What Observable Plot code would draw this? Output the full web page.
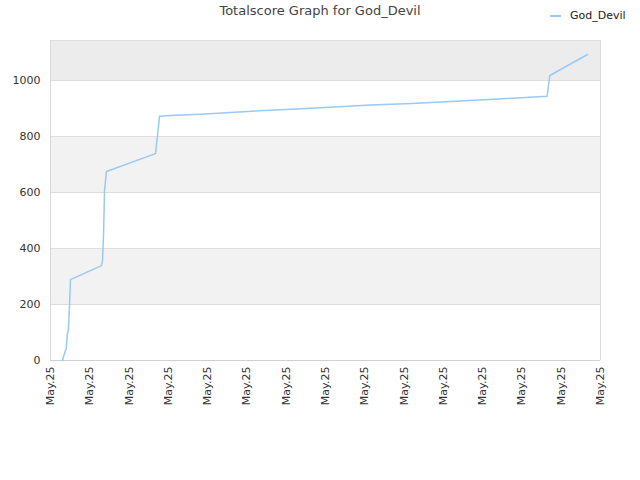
<!DOCTYPE html>
<html>
<head>
<meta charset="utf-8">
<script src="https://cdn.jsdelivr.net/npm/d3@7"></script>
<script src="https://cdn.jsdelivr.net/npm/@observablehq/plot@0.6"></script>
<style>
  html, body { margin: 0; padding: 0; background: #fff; }
  #wrap { position: relative; width: 640px; height: 480px; font-family: "DejaVu Sans", sans-serif; }
  #title { position: absolute; left: 0; top: 3px; width: 640px; text-align: center; font-size: 13px; color: #444; }
  #legend { position: absolute; left: 550px; top: 9px; font-size: 11px; color: #222; display: flex; align-items: center; }
  #legend .sw { width: 11px; height: 2px; background: #99c9f5; margin-right: 9px; }
  #chart { position: absolute; left: 0; top: 0; }
</style>
</head>
<body>
<div id="wrap">
  <div id="chart"></div>
  <div id="title">Totalscore Graph for God_Devil</div>
  <div id="legend"><div class="sw"></div><span>God_Devil</span></div>
</div>
<script>
// Data
const seriesName = "God_Devil";
const xValues = [0.305, 0.34, 0.40, 0.425, 0.458, 0.476, 0.509, 1.298, 1.324, 1.35, 1.375, 1.425, 2.673, 2.74, 2.775, 3.05, 3.82, 4.8, 5.85, 7.0, 8.15, 9.2, 10.18, 11.4, 12.64, 12.71, 13.67];
const scores  = [0, 18, 43, 89, 114, 171, 289, 339, 357, 450, 607, 675, 739, 825, 872, 875, 880, 888, 896, 904, 913, 918, 925, 934, 944, 1018, 1093];
const tickPositions = [0, 1, 2, 3, 4, 5, 6, 7, 8, 9, 10, 11, 12, 13, 14];
const tickLabels = ["May.25","May.25","May.25","May.25","May.25","May.25","May.25","May.25","May.25","May.25","May.25","May.25","May.25","May.25","May.25"];
const yTicks = [0, 200, 400, 600, 800, 1000];
const bandStarts = [200, 600, 1000];
const bandEnds = [400, 800, 1143];
const yMax = 1143;

const points = xValues.map((x, i) => ({x, y: scores[i]}));
const bands = bandStarts.map((s, i) => ({y1: s, y2: bandEnds[i], top: i === bandStarts.length - 1}));

const chart = Plot.plot({
  width: 640,
  height: 480,
  marginLeft: 50,
  marginRight: 40,
  marginTop: 40,
  marginBottom: 120,
  style: { fontFamily: "DejaVu Sans, sans-serif", fontSize: "11px", color: "#333", background: "transparent" },
  x: { domain: [0, 14], ticks: tickPositions, tickFormat: (d) => tickLabels[tickPositions.indexOf(d)], tickRotate: -90, tickSize: 0, tickPadding: 6, label: null },
  y: { domain: [0, yMax], ticks: yTicks, tickFormat: d3.format("d"), tickSize: 0, tickPadding: 10, label: null },
  marks: [
    Plot.rect(bands, { x1: 0, x2: 14, y1: "y1", y2: "y2", fill: (d) => d.top ? "#ececec" : "#f2f2f2" }),
    Plot.ruleY(yTicks.filter(t => t > 0), { stroke: "#dddddd", strokeWidth: 1 }),
    Plot.ruleY([yMax], { stroke: "#dddddd" }),
    Plot.ruleY([0], { stroke: "#d0d0d0" }),
    Plot.ruleX([0, 14], { stroke: "#d9d9d9" }),
    Plot.line(points, { x: "x", y: "y", stroke: "#99c9f5", strokeWidth: 1.5 })
  ]
});
document.getElementById("chart").appendChild(chart);
</script>
</body>
</html>
